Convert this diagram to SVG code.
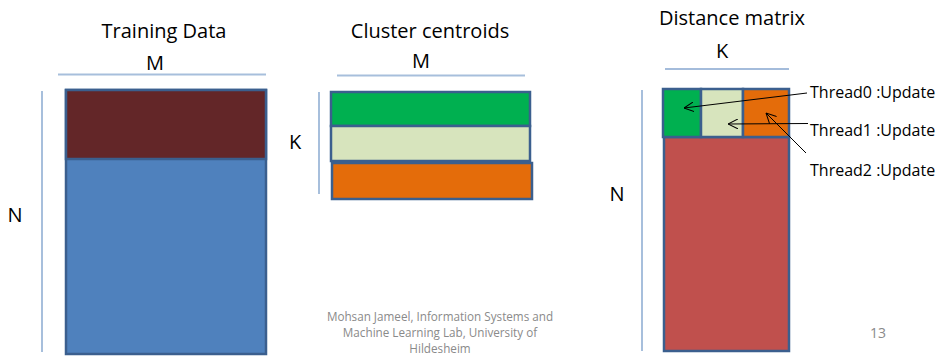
<svg xmlns="http://www.w3.org/2000/svg" width="938" height="364" viewBox="0 0 938 364">
<defs>
<style>
text{font-family:"Open Sans","Liberation Sans",sans-serif;fill:#000}
.t{font-size:20px;text-anchor:middle}
.lbl{font-size:20px;text-anchor:middle}
.th{font-size:16px}
.ft{font-size:11.7px;fill:#8a8a8a;text-anchor:middle}
.pg{font-size:14px;fill:#8a8a8a;text-anchor:middle}
.dim{stroke:#a7bfdc;stroke-width:2;fill:none}
.box{stroke:#3b5f8e;stroke-width:2.5}
.arr{stroke:#000;stroke-width:1;fill:none;marker-end:url(#ah)}
</style>
<marker id="ah" viewBox="0 0 10 10" refX="10" refY="5" markerWidth="10" markerHeight="10" orient="auto" markerUnits="userSpaceOnUse">
<path d="M0,0 L10,5 L0,10" fill="none" stroke="#000" stroke-width="1"/>
</marker>
</defs>
<rect width="938" height="364" fill="#fff"/>

<g id="training-data">
<text class="t" x="164" y="38">Training Data</text>
<text class="lbl" x="155" y="70">M</text>
<line class="dim" x1="58" y1="74.5" x2="266" y2="74.5"/>
<line class="dim" x1="42" y1="91" x2="42" y2="352"/>
<text class="lbl" x="15" y="222">N</text>
<rect class="box" x="66" y="90" width="200" height="264" fill="#4f81bd"/>
<rect class="box" x="66" y="90" width="200" height="69" fill="#632628"/>
</g>

<g id="cluster-centroids">
<text class="t" x="430" y="38">Cluster centroids</text>
<text class="lbl" x="421" y="68">M</text>
<line class="dim" x1="337" y1="75.5" x2="525" y2="75.5"/>
<line class="dim" x1="319" y1="92" x2="319" y2="194"/>
<text class="lbl" x="295" y="149">K</text>
<rect class="box" x="331" y="92" width="199" height="34" fill="#00b050"/>
<rect class="box" x="331" y="126" width="199" height="35" fill="#d7e4bd"/>
<rect class="box" x="332" y="163" width="200" height="36" fill="#e46c0a"/>
</g>

<g id="distance-matrix">
<text class="t" x="732" y="25">Distance matrix</text>
<text class="lbl" x="722" y="58">K</text>
<line x1="665" y1="69" x2="789" y2="69" stroke="#4a7ab8" stroke-width="1.2"/>
<line class="dim" x1="642" y1="90" x2="642" y2="351"/>
<text class="lbl" x="617" y="201">N</text>
<rect class="box" x="664" y="137" width="125" height="214" fill="#c0504d"/>
<rect class="box" x="663" y="89" width="38" height="48" fill="#00b050"/>
<rect class="box" x="701" y="89" width="42" height="48" fill="#d7e4bd"/>
<rect class="box" x="743" y="89" width="46" height="48" fill="#e46c0a"/>
</g>

<g id="thread-labels">
<text class="th" x="810" y="98">Thread0 :Update</text>
<text class="th" x="810" y="136">Thread1 :Update</text>
<text class="th" x="810" y="176">Thread2 :Update</text>
</g>

<g id="connectors">
<line class="arr" x1="807" y1="93" x2="684" y2="108"/>
<line class="arr" x1="808" y1="123.5" x2="728" y2="124"/>
<line class="arr" x1="806" y1="153" x2="766" y2="113"/>
</g>

<g id="footer">
<text class="ft" x="440" y="321">Mohsan Jameel, Information Systems and</text>
<text class="ft" x="440" y="337">Machine Learning Lab, University of</text>
<text class="ft" x="440" y="353">Hildesheim</text>
<text class="pg" x="878" y="338">13</text>
</g>
</svg>
